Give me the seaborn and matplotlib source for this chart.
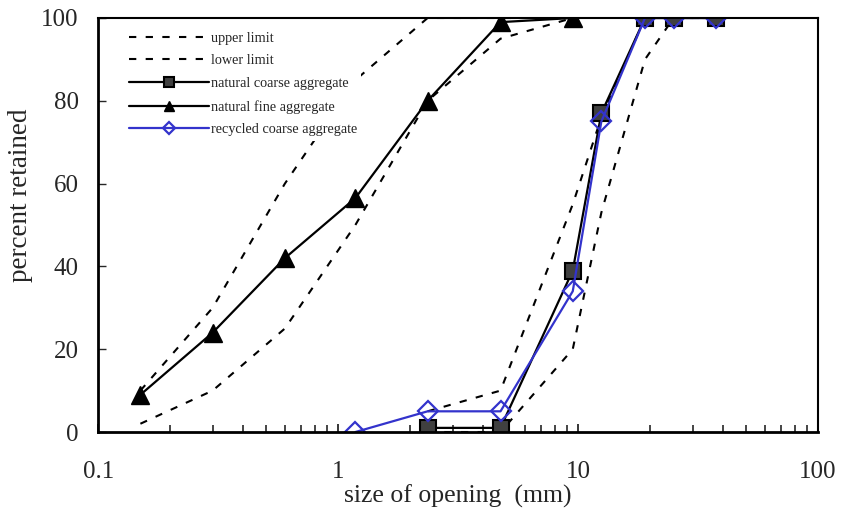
import matplotlib
matplotlib.use("Agg")
import matplotlib.pyplot as plt
import seaborn as sns
from matplotlib.ticker import FixedLocator, FixedFormatter, LogLocator, NullFormatter

# ---- data ----
sieve_fine = [0.15, 0.3, 0.6, 1.18, 2.36, 4.75, 9.5]
fine_upper = [10, 30, 60, 85, 100, 100, 100]
fine_lower = [2, 10, 25, 50, 80, 95, 100]

sieve_coarse = [2.36, 4.75, 9.5, 12.5, 19, 25, 37.5]
coarse_upper = [5, 10, 55, 76, 100, 100, 100]
coarse_lower = [0, 0, 20, 53, 90, 100, 100]

natural_fine = [9, 24, 42, 56.5, 80, 99, 100]
natural_coarse = [1, 1, 39, 77, 100, 100, 100]

sieve_recycled = [1.18, 2.36, 4.75, 9.5, 12.5, 19, 25, 37.5]
recycled_coarse = [0, 5, 5, 34, 75, 100, 100, 100]

x_ticks = [0.1, 1, 10, 100]
x_tick_labels = ["0.1", "1", "10", "100"]
y_ticks = [0, 20, 40, 60, 80, 100]

labels = ["upper limit", "lower limit", "natural coarse aggregate",
          "natural fine aggregate", "recycled coarse aggregate"]

# ---- style ----
sns.set_theme(style="ticks")
plt.rcParams["font.family"] = ["Liberation Serif", "DejaVu Serif"]

fig = plt.figure(figsize=(8.46, 5.14), dpi=100)
ax = fig.add_axes([0.116, 0.1595, 0.851, 0.8055])

dash = (0, (3.5, 4.5))
lim_kw = dict(color="black", linewidth=1.5, linestyle=dash, sort=False, estimator=None, ax=ax)

sns.lineplot(x=sieve_fine, y=fine_upper, label=labels[0], **lim_kw)
sns.lineplot(x=sieve_coarse, y=coarse_upper, **lim_kw)
sns.lineplot(x=sieve_fine, y=fine_lower, label=labels[1], **lim_kw)
sns.lineplot(x=sieve_coarse, y=coarse_lower, **lim_kw)

sns.lineplot(x=sieve_coarse, y=natural_coarse, color="black", linewidth=1.6,
             marker="s", markersize=12, markerfacecolor="#404040",
             markeredgecolor="black", markeredgewidth=1.5,
             label=labels[2], sort=False, estimator=None, ax=ax)
sns.lineplot(x=sieve_fine, y=natural_fine, color="black", linewidth=1.6,
             marker="^", markersize=13, markerfacecolor="black",
             markeredgecolor="black", markeredgewidth=1.0,
             label=labels[3], sort=False, estimator=None, ax=ax)
sns.lineplot(x=sieve_recycled, y=recycled_coarse, color="#3333cc", linewidth=1.6,
             marker="D", markersize=10.5, markerfacecolor="none",
             markeredgecolor="#3333cc", markeredgewidth=1.6,
             label=labels[4], sort=False, estimator=None, ax=ax)

ax.set_xscale("log")
ax.set_xlim(0.1, 100)
ax.set_ylim(0, 100)
ax.xaxis.set_major_locator(FixedLocator(x_ticks))
ax.xaxis.set_major_formatter(FixedFormatter(x_tick_labels))
ax.xaxis.set_minor_locator(LogLocator(base=10, subs=range(2, 10)))
ax.xaxis.set_minor_formatter(NullFormatter())
ax.set_yticks(y_ticks)

ax.tick_params(axis="x", which="major", direction="in", length=6, width=1.3,
               labelsize=18, pad=21, top=False)
ax.tick_params(axis="x", which="minor", direction="in", length=5, width=1.2, top=False)
ax.tick_params(axis="y", which="major", direction="in", length=6, width=1.0,
               labelsize=18, pad=14, right=False)

for s in ["left", "bottom"]:
    ax.spines[s].set_linewidth(2.0)
for s in ["top", "right"]:
    ax.spines[s].set_linewidth(1.5)
for s in ax.spines.values():
    s.set_color("black")

ax.set_xlabel("size of opening  (mm)", fontsize=18.5, labelpad=1)
ax.set_ylabel("percent retained", fontsize=19.5)
ax.yaxis.set_label_coords(-0.090, 0.572)

handles, lbls = ax.get_legend_handles_labels()
order = [lbls.index(l) for l in labels]
leg = ax.legend([handles[i] for i in order], [lbls[i] for i in order],
                loc="upper left", bbox_to_anchor=(0.027, 0.995), fontsize=10.3,
                handlelength=5.6, labelspacing=0.68, markerscale=0.6,
                frameon=True, facecolor="white", edgecolor="none", framealpha=1,
                borderpad=0.3, handletextpad=0.1)
leg.get_frame().set_linewidth(0)

fig.savefig("out.png", dpi=100)
